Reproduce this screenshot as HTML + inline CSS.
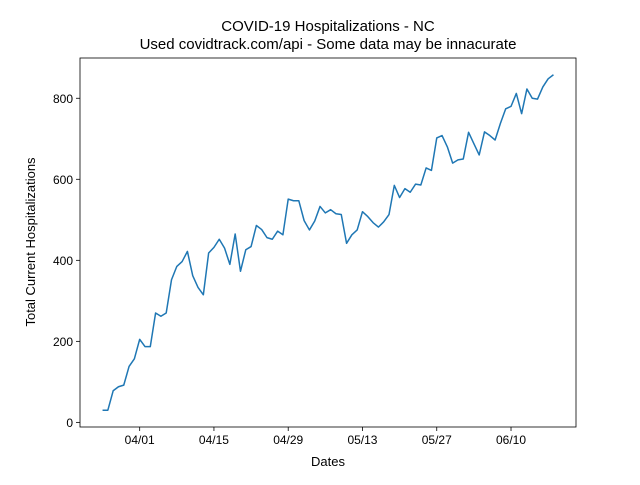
<!DOCTYPE html>
<html><head><meta charset="utf-8"><style>
body{margin:0;background:#fff;}
svg text{font-family:"Liberation Sans","DejaVu Sans",sans-serif;}
</style></head><body>
<svg id="chart" width="640" height="480" xmlns="http://www.w3.org/2000/svg">
<rect width="640" height="480" fill="#fff"/>
<text x="328" y="31" font-size="15" text-anchor="middle">COVID-19 Hospitalizations - NC</text>
<text x="328" y="49" font-size="15" text-anchor="middle">Used covidtrack.com/api - Some data may be innacurate</text>
<g id="axes"></g>
<text x="328" y="466" font-size="13" text-anchor="middle">Dates</text>
<text transform="translate(35,242) rotate(-90)" font-size="13" text-anchor="middle">Total Current Hospitalizations</text>
</svg>
<script>
const startDay = -7; // days relative to 04/01 (first point 03/25)
const values = [30,30,78,88,92,138,157,205,187,187,270,262,270,352,385,397,422,362,333,315,418,432,452,430,390,465,373,426,434,486,476,456,452,472,463,551,547,547,498,475,497,533,517,525,515,513,442,463,475,520,508,493,482,495,513,585,555,577,568,588,586,628,622,702,708,680,640,648,650,716,688,660,717,708,697,738,774,780,812,762,823,800,798,828,848,858];
const xTickDays = [0,14,28,42,56,70];
const xTickLabels = ["04/01","04/15","04/29","05/13","05/27","06/10"];
const yTicks = [0,200,400,600,800];

const L=80,R=576,T=58,B=427;
const n=values.length, d0=startDay, d1=startDay+n-1, pad=(d1-d0)*0.05;
const xs=d=>L+(d-(d0-pad))/((d1+pad)-(d0-pad))*(R-L);
const vmin=Math.min(...values), vmax=Math.max(...values), vp=(vmax-vmin)*0.05;
const ymin=vmin-vp, ymax=vmax+vp;
const ys=v=>B-(v-ymin)/(ymax-ymin)*(B-T);
const NS="http://www.w3.org/2000/svg";
const g=document.getElementById('axes');
function mk(tag,attrs,parent){const e=document.createElementNS(NS,tag);for(const k in attrs)e.setAttribute(k,attrs[k]);(parent||g).appendChild(e);return e;}

xTickDays.forEach((d,i)=>{
  const x=xs(d);
  const t=mk('line',{x1:x,x2:x,y1:B,y2:B+4,stroke:'#000','stroke-width':0.8});
  
  
  const l=mk('text',{x:x,y:B+17,'font-size':12,'text-anchor':'middle'});
  l.textContent=xTickLabels[i];
  
  
});
yTicks.forEach(v=>{
  const y=ys(v);
  const t=mk('line',{x1:L-4,x2:L,y1:y,y2:y,stroke:'#000','stroke-width':0.8});
  
  
  const l=mk('text',{x:L-7,y:y+4.5,'font-size':12,'text-anchor':'end'});
  l.textContent=v;
  
  
});
const pts=values.map((v,i)=>xs(d0+i).toFixed(2)+','+ys(v).toFixed(2)).join(' ');
const line=mk('polyline',{points:pts,fill:'none',stroke:'#1f77b4','stroke-width':1.5,'stroke-linejoin':'round'});


const frame=mk('rect',{x:L,y:T,width:R-L,height:B-T,fill:'none',stroke:'#000','stroke-width':0.8});


</script>
</body></html>
